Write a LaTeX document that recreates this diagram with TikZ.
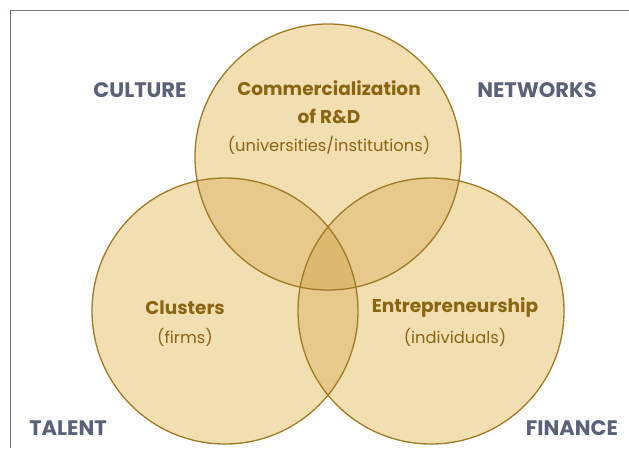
\documentclass[tikz,border=0pt]{standalone}
\usepackage{fontspec}
\setmainfont{Poppins}
\definecolor{onec}{HTML}{F1DFB1}
\definecolor{twoc}{HTML}{E7CA8B}
\definecolor{threec}{HTML}{DDB96F}
\definecolor{ringc}{HTML}{9E7A22}
\definecolor{goldc}{HTML}{8A6512}
\definecolor{slatec}{HTML}{5B6178}
\definecolor{framec}{HTML}{6E7283}
\tikzset{
  ringline/.style={draw=ringc, line width=1.3pt},
  head/.style={text=goldc, font=\fontsize{18.5}{20}\selectfont\bfseries, align=center},
  sub/.style={text=goldc, font=\fontsize{16.3}{18}\selectfont, align=center},
  corner/.style={text=slatec, font=\fontsize{21}{22}\selectfont\bfseries},
}
\begin{document}
\begin{tikzpicture}[x=1pt,y=-1pt]
\useasboundingbox (0,0) rectangle (629,448);
\fill[white] (0,0) rectangle (629,448);
\coordinate (ct) at (328,157);
\coordinate (cl) at (225,311);
\coordinate (cr) at (431,311);
% single fills
\fill[fill=onec] (ct) circle[radius=133pt];
\fill[fill=onec] (cl) circle[radius=133pt];
\fill[fill=onec] (cr) circle[radius=133pt];
% pairwise overlaps
\begin{scope}
  \clip (ct) circle[radius=133pt];
  \fill[fill=twoc] (cl) circle[radius=133pt];
  \fill[fill=twoc] (cr) circle[radius=133pt];
\end{scope}
\begin{scope}
  \clip (cl) circle[radius=133pt];
  \fill[fill=twoc] (cr) circle[radius=133pt];
\end{scope}
% triple overlap
\begin{scope}
  \clip (ct) circle[radius=133pt];
  \clip (cl) circle[radius=133pt];
  \fill[fill=threec] (cr) circle[radius=133pt];
\end{scope}
% outlines
\draw[ringline] (ct) circle[radius=133pt];
\draw[ringline] (cl) circle[radius=133pt];
\draw[ringline] (cr) circle[radius=133pt];
% frame
\draw[framec, line width=1.5pt] (10.5,448) -- (10.5,10.5) -- (629,10.5);
% texts
\node[head] (t1) at (329,88) {Commercialization};
\node[head] (t2) at (329,116) {of R\&D};
\node[sub] (t3) at (329,145) {(universities/institutions)};
\node[head] (l1) at (185,308) {Clusters};
\node[sub] (l2) at (185,337) {(firms)};
\node[head] (r1) at (455,308) {Entrepreneurship};
\node[sub] (r2) at (455,337) {(individuals)};
\node[corner] (cu) at (140,90) {CULTURE};
\node[corner] (nw) at (537,90) {NETWORKS};
\node[corner] (ta) at (68,428) {TALENT};
\node[corner] (fi) at (572,428) {FINANCE};
\end{tikzpicture}
\end{document}
